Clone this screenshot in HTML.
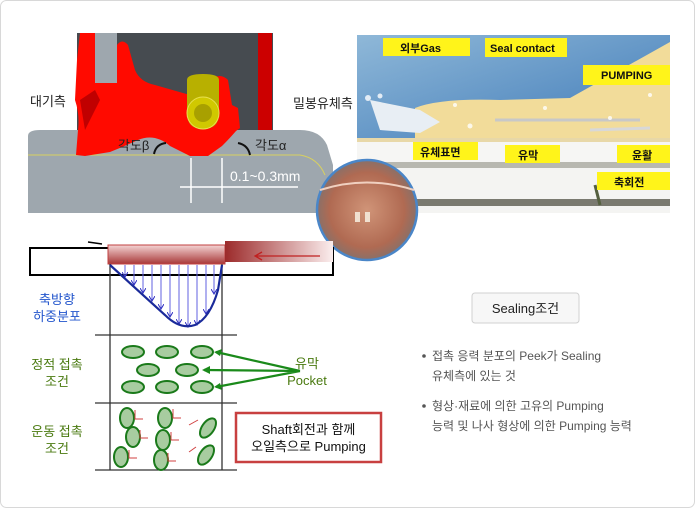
<!DOCTYPE html>
<html><head><meta charset="utf-8"><style>
body{margin:0;width:695px;height:508px;overflow:hidden;background:#fff;font-family:"Liberation Sans","Noto Sans CJK KR",sans-serif}
svg text{font-family:"Liberation Sans","Noto Sans CJK KR",sans-serif}
</style></head><body>
<svg width="695" height="508" viewBox="0 0 695 508" xmlns="http://www.w3.org/2000/svg">
<defs>
<linearGradient id="rb" x1="0" y1="0" x2="0" y2="1"><stop offset="0" stop-color="#f4d4d4"/><stop offset="1" stop-color="#a83838"/></linearGradient>
<linearGradient id="rb2" x1="0" y1="0" x2="1" y2="0"><stop offset="0" stop-color="#9c2a2a"/><stop offset="1" stop-color="#fbeeee"/></linearGradient>
<linearGradient id="sky" x1="0" y1="0" x2="1" y2="1"><stop offset="0" stop-color="#8fb8d8"/><stop offset="1" stop-color="#3f7ab8"/></linearGradient>
<radialGradient id="ph" cx="0.5" cy="0.5" r="0.5"><stop offset="0" stop-color="#d09478"/><stop offset="0.75" stop-color="#b06a52"/><stop offset="1" stop-color="#8a7068"/></radialGradient>
<marker id="ba" markerWidth="6" markerHeight="6" refX="5" refY="3" orient="auto" markerUnits="userSpaceOnUse"><path d="M0 0 L5 3 L0 6" fill="none" stroke="#3030c0" stroke-width="1"/></marker>
</defs>
<rect x="0.5" y="0.5" width="694" height="507" rx="6" fill="#fff" stroke="#d8d8d8"/>

<rect x="77" y="33" width="196" height="100" fill="#464b50"/>
<rect x="258" y="33" width="14" height="100" fill="#cc0000"/>
<path d="M28 136 Q28 130 40 130 L300 130 Q320 130 327 145 L333 165 L333 213 L28 213 Z" fill="#9ea7ae"/>
<path d="M28 155 L300 155 Q318 158 325 175" stroke="#d8d060" stroke-width="1" fill="none"/>
<path d="M80 33 L95 33 L95 83 L117 83 L117 45 Q122 38 128 45 L135 70 Q140 82 155 85 L190 95 L205 105 L210 80 Q220 72 228 80 L232 105 L238 108 L240 128 L236 131 Q230 138 222 146 L208 156 L190 156 L170 146 Q155 133 138 140 Q125 146 110 152 L85 156 L76 155 L78 130 Q80 115 75 100 L77 60 Z" fill="#ff0a00"/>
<path d="M80 100 L95 90 L100 100 L85 130 Z" fill="#c00000"/>
<rect x="95" y="33" width="22" height="50" fill="#9ea7ae"/>
<path d="M187 80 Q187 74 203 74 Q219 74 219 80 L219 113 Q219 129 203 129 Q187 129 187 113 Z" fill="#b8b000"/>
<circle cx="203" cy="113" r="16" fill="#d0c800" stroke="#e8e050"/>
<circle cx="203" cy="113" r="9" fill="#a8a000"/>
<text x="30" y="106" font-size="13" fill="#222">대기측</text>
<text x="293" y="108" font-size="13" fill="#222">밀봉유체측</text>
<text x="118" y="150" font-size="13" fill="#222">각도β</text>
<text x="255" y="150" font-size="13" fill="#222">각도α</text>
<path d="M154 154 Q156 144 166 143" stroke="#111" stroke-width="2" fill="none"/>
<path d="M238 143 Q248 145 250 155" stroke="#111" stroke-width="2" fill="none"/>
<g stroke="#fff" stroke-width="1.5"><line x1="191" y1="158" x2="191" y2="203"/><line x1="222" y1="158" x2="222" y2="203"/><line x1="180" y1="187" x2="298" y2="187"/></g>
<text x="230" y="181" font-size="14" fill="#fff">0.1~0.3mm</text>

<rect x="357" y="35" width="313" height="178" fill="#f4f4f2"/>
<path d="M357 35 L670 35 L670 138 L357 138 Z" fill="url(#sky)"/>
<path d="M415 108 Q440 98 500 100 L570 98 L670 42 L670 138 L415 138 Z" fill="#f2dc9a"/>
<path d="M357 138 L670 138 L670 142 L357 142 Z" fill="#e8d8a8"/>
<rect x="357" y="142" width="313" height="20" fill="#f6f6f4"/>
<rect x="357" y="162" width="313" height="6" fill="#b8b8b0"/>
<rect x="357" y="199" width="313" height="7" fill="#7a7a70"/>
<path d="M370 100 L420 110 L440 122 L420 133 L380 130 Z" fill="#e8eef4"/>
<path d="M495 120 L640 120" stroke="#c8c8c8" stroke-width="3" fill="none"/>
<path d="M590 130 L650 128" stroke="#d8d8d8" stroke-width="3"/>
<g fill="#fff" opacity="0.8"><circle cx="368" cy="98" r="3"/><circle cx="380" cy="96" r="2.5"/><circle cx="455" cy="105" r="2"/><circle cx="470" cy="126" r="2.5"/><circle cx="545" cy="108" r="2"/><circle cx="610" cy="118" r="2"/><circle cx="650" cy="95" r="2"/></g>
<path d="M595 185 L600 205" stroke="#556040" stroke-width="3"/>
<g font-size="11" font-weight="bold" fill="#111">
<rect x="383" y="38" width="87" height="18" fill="#fff41a"/><text x="400" y="52">외부Gas</text>
<rect x="485" y="38" width="82" height="19" fill="#fff41a"/><text x="490" y="52">Seal contact</text>
<rect x="583" y="65" width="87" height="20" fill="#fff41a"/><text x="601" y="79">PUMPING</text>
<rect x="413" y="142" width="65" height="18" fill="#fff41a"/><text x="420" y="156">유체표면</text>
<rect x="505" y="145" width="55" height="18" fill="#fff41a"/><text x="518" y="159">유막</text>
<rect x="617" y="145" width="53" height="18" fill="#fff41a"/><text x="632" y="159">윤활</text>
<rect x="597" y="172" width="73" height="18" fill="#fff41a"/><text x="614" y="186">축회전</text>
</g>
<circle cx="367" cy="210" r="50" fill="url(#ph)" stroke="#4a86c8" stroke-width="2.5"/>
<path d="M320 190 Q367 175 414 190" stroke="#f0d0c0" stroke-width="2" fill="none"/>
<rect x="355" y="212" width="5" height="10" fill="#f0e0d0"/><rect x="365" y="212" width="5" height="10" fill="#f0e0d0"/>

<rect x="30" y="248" width="303" height="27" fill="#fff" stroke="#000" stroke-width="2"/>
<rect x="108" y="245" width="117" height="19" fill="url(#rb)" stroke="#c04040"/>
<rect x="225" y="241" width="108" height="21" fill="url(#rb2)"/>
<path d="M320 256 L255 256 M262 252 L255 256 L262 260" stroke="#c02020" stroke-width="1.3" fill="none"/>
<path d="M88 242 L102 244" stroke="#000" stroke-width="1.5"/>
<g stroke="#333" stroke-width="1.3"><line x1="110" y1="264" x2="110" y2="470"/><line x1="222" y1="264" x2="222" y2="470"/><line x1="95" y1="335" x2="237" y2="335"/><line x1="95" y1="403" x2="237" y2="403"/><line x1="95" y1="470" x2="237" y2="470"/></g>
<g stroke="#6060e0" stroke-width="1" marker-end="url(#ba)">
<line x1="125" y1="265" x2="125" y2="277"/><line x1="134" y1="265" x2="134" y2="285"/><line x1="143" y1="265" x2="143" y2="293"/><line x1="152" y1="265" x2="152" y2="301"/><line x1="161" y1="265" x2="161" y2="309"/><line x1="170" y1="265" x2="170" y2="317"/><line x1="179" y1="265" x2="179" y2="324"/><line x1="188" y1="265" x2="188" y2="327"/><line x1="197" y1="265" x2="197" y2="325"/><line x1="206" y1="265" x2="206" y2="314"/><line x1="214" y1="265" x2="214" y2="294"/></g>
<path d="M110 265 L165 315 Q180 330 195 325 Q210 318 218 290 L222 265" stroke="#1a2a9a" stroke-width="2.2" fill="none"/>
<g font-size="13" text-anchor="middle">
<text x="57" y="304" fill="#2255cc">축방향</text><text x="57" y="321" fill="#2255cc">하중분포</text>
<text x="57" y="369" fill="#4a7a10">정적 접촉</text><text x="57" y="386" fill="#4a7a10">조건</text>
<text x="57" y="436" fill="#4a7a10">운동 접촉</text><text x="57" y="453" fill="#4a7a10">조건</text>
</g>
<g fill="#a8cca0" stroke="#1a7a1a" stroke-width="2">
<ellipse cx="133" cy="352" rx="11" ry="6"/><ellipse cx="167" cy="352" rx="11" ry="6"/><ellipse cx="202" cy="352" rx="11" ry="6"/>
<ellipse cx="148" cy="370" rx="11" ry="6"/><ellipse cx="187" cy="370" rx="11" ry="6"/>
<ellipse cx="133" cy="387" rx="11" ry="6"/><ellipse cx="167" cy="387" rx="11" ry="6"/><ellipse cx="202" cy="387" rx="11" ry="6"/>
<ellipse cx="127" cy="418" rx="7" ry="10"/><ellipse cx="165" cy="418" rx="7" ry="10"/><ellipse cx="208" cy="428" rx="6" ry="11" transform="rotate(35 208 428)"/>
<ellipse cx="133" cy="437" rx="7" ry="10"/><ellipse cx="163" cy="440" rx="7" ry="10"/>
<ellipse cx="121" cy="457" rx="7" ry="10"/><ellipse cx="161" cy="460" rx="7" ry="10"/><ellipse cx="206" cy="455" rx="6" ry="11" transform="rotate(35 206 455)"/>
</g>
<g stroke="#1a8a1a" stroke-width="2.2" fill="none">
<path d="M300 371 L216 352 M300 371 L204 370 M300 371 L216 387"/>
</g>
<g fill="#1a8a1a"><path d="M214 352 L222 349 L220 356Z"/><path d="M202 370 L210 366 L210 374Z"/><path d="M214 387 L220 383 L222 390Z"/></g>
<g stroke="#d04040" stroke-width="1" fill="none">
<path d="M135 410 L135 419 L143 419"/><path d="M173 409 L173 418 L181 418"/><path d="M140 430 L140 438 L148 438"/><path d="M171 432 L171 440 L179 440"/><path d="M129 450 L129 458 L137 458"/><path d="M168 453 L168 461 L176 461"/><path d="M198 420 L189 425"/><path d="M196 447 L189 452"/>
</g>
<text x="307" y="368" font-size="13" fill="#4a7a10" text-anchor="middle">유막</text>
<text x="307" y="385" font-size="13" fill="#4a7a10" text-anchor="middle">Pocket</text>
<rect x="236" y="413" width="145" height="49" fill="#fff" stroke="#c84040" stroke-width="2.5"/>
<text x="308.5" y="434" font-size="13" fill="#111" text-anchor="middle">Shaft회전과 함께</text>
<text x="308.5" y="451" font-size="13" fill="#111" text-anchor="middle">오일측으로 Pumping</text>

<rect x="472" y="293" width="107" height="30" rx="3" fill="#f7f7f7" stroke="#d0d0d0"/>
<text x="525.5" y="313" font-size="13" fill="#222" text-anchor="middle">Sealing조건</text>
<g font-size="12" fill="#555">
<circle cx="424" cy="356" r="1.8" fill="#555"/><text x="432" y="360">접촉 응력 분포의 Peek가 Sealing</text><text x="432" y="380">유체측에 있는 것</text>
<circle cx="424" cy="406" r="1.8" fill="#555"/><text x="432" y="410">형상·재료에 의한 고유의 Pumping</text><text x="432" y="430">능력 및 나사 형상에 의한 Pumping 능력</text>
</g>
</svg>
</body></html>
